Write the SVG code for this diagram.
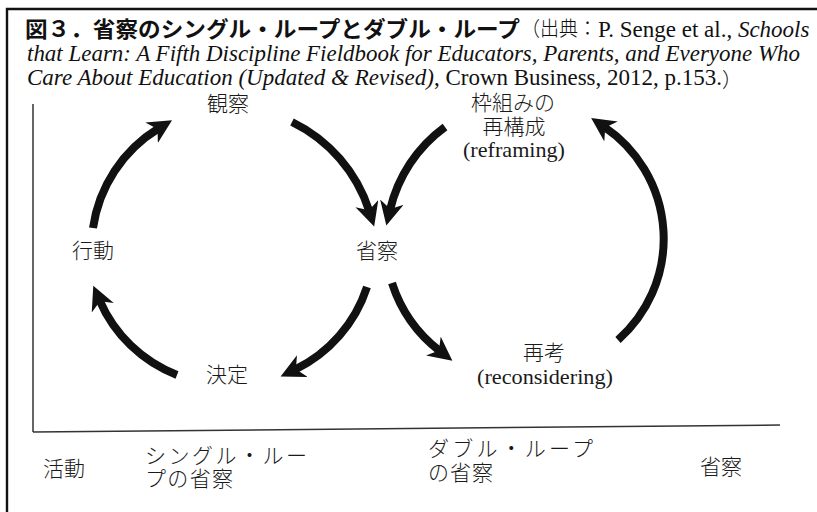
<svg xmlns="http://www.w3.org/2000/svg" width="817" height="512" viewBox="0 0 817 512">
<defs>
<style>
.jp{font-family:"Liberation Serif","Noto Sans CJK JP",serif;font-size:21px;font-weight:300;fill:#1a1a1a}
.en{font-family:"Liberation Serif",serif;font-size:22px;fill:#1a1a1a}
.cap{font-family:"Liberation Serif","Noto Sans CJK JP",serif;font-size:23px;fill:#111}
.capjp{font-family:"Noto Sans CJK JP",sans-serif;font-size:20px;font-weight:300;fill:#111}
.ttl{font-family:"Noto Sans CJK JP","Noto Sans",sans-serif;font-size:22px;font-weight:bold;fill:#111}
.arc{fill:none;stroke:#111;stroke-width:8;stroke-linecap:butt;marker-end:url(#ah)}
.ax{stroke:#333;stroke-width:1.5;fill:none}
.frame{stroke:#111;stroke-width:2.4;fill:none}
</style>
<marker id="ah" markerUnits="userSpaceOnUse" markerWidth="30" markerHeight="30" refX="8" refY="12" orient="auto">
<path d="M0,0 L24,12 L0,24 L7,12 Z" fill="#111"/>
</marker>
</defs>
<rect width="817" height="512" fill="#fff"/>
<g id="frame">
<path class="frame" d="M7,512 V9 H817"/>
</g>
<g id="caption">
<text class="ttl" x="25" y="37" textLength="495" lengthAdjust="spacingAndGlyphs">図３．省察のシングル・ループとダブル・ループ</text>
<text class="capjp" x="521" y="36" textLength="76" lengthAdjust="spacingAndGlyphs">（出典：</text>
<text x="598" y="37"><tspan class="cap">P. Senge et al., </tspan><tspan class="cap" font-style="italic">Schools</tspan></text>
<text class="cap" x="27" y="61" font-style="italic" textLength="773" lengthAdjust="spacingAndGlyphs">that Learn: A Fifth Discipline Fieldbook for Educators, Parents, and Everyone Who</text>
<text x="27" y="85"><tspan class="cap" font-style="italic">Care About Education (Updated &amp; Revised)</tspan><tspan class="cap">, Crown Business, 2012, p.153.</tspan><tspan class="capjp" font-size="16" dy="1.5">）</tspan></text>
</g>
<g id="axes">
<path class="ax" d="M33,104 V432"/>
<path class="ax" d="M33,432 L780,425"/>
</g>
<g id="connectors">
<path class="arc" d="M93,228 A140,140 0 0 1 158.4,128.5"/>
<path class="arc" d="M292,122 A150,150 0 0 1 369.3,211.3"/>
<path class="arc" d="M367,287 A140,140 0 0 1 295,369.6"/>
<path class="arc" d="M177,375 A139,139 0 0 1 99.6,300.4"/>
<path class="arc" d="M392,283 A140,140 0 0 0 439.7,351"/>
<path class="arc" d="M618,340 A135,135 0 0 0 604.4,127"/>
<path class="arc" d="M445,127 A143,143 0 0 0 390,210"/>
</g>
<g id="node-kansatsu"><text class="jp" x="228" y="111" text-anchor="middle">観察</text></g>
<g id="node-koudou"><text class="jp" x="93" y="258" text-anchor="middle">行動</text></g>
<g id="node-seisatsu"><text class="jp" x="377" y="258" text-anchor="middle">省察</text></g>
<g id="node-kettei"><text class="jp" x="227" y="382" text-anchor="middle">決定</text></g>
<g id="node-reframing">
<text class="jp" x="513" y="110" text-anchor="middle">枠組みの</text>
<text class="jp" x="514" y="134" text-anchor="middle">再構成</text>
<text class="en" x="514" y="157" text-anchor="middle" textLength="102" lengthAdjust="spacingAndGlyphs">(reframing)</text>
</g>
<g id="node-saikou">
<text class="jp" x="544" y="360" text-anchor="middle">再考</text>
<text class="en" x="545" y="384" text-anchor="middle" textLength="136" lengthAdjust="spacingAndGlyphs">(reconsidering)</text>
</g>
<g id="labels">
<text class="jp" x="43" y="476">活動</text>
<text class="jp" x="145" y="463" textLength="162" lengthAdjust="spacing">シングル・ルー</text>
<text class="jp" x="145" y="486" textLength="88" lengthAdjust="spacing">プの省察</text>
<text class="jp" x="428" y="456" textLength="165" lengthAdjust="spacing">ダブル・ループ</text>
<text class="jp" x="428" y="480" textLength="65" lengthAdjust="spacing">の省察</text>
<text class="jp" x="700" y="474">省察</text>
</g>
</svg>
